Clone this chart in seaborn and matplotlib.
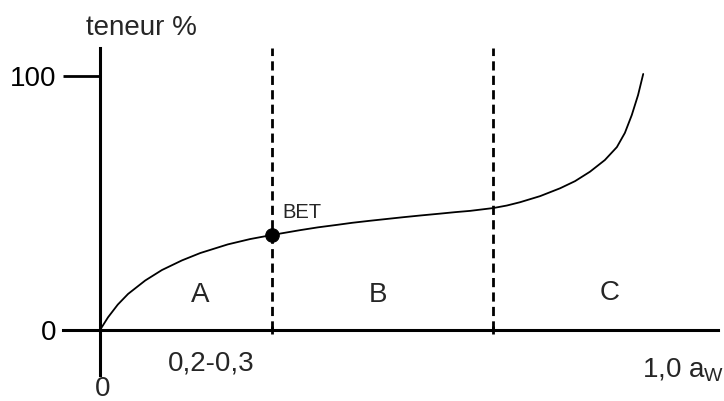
import matplotlib
matplotlib.use("Agg")
import matplotlib.pyplot as plt
import seaborn as sns
import pandas as pd

# ---- data ----
aw = [0.0, 0.014, 0.031, 0.049, 0.079, 0.108, 0.143, 0.175, 0.223, 0.262, 0.300,
      0.349, 0.380, 0.414, 0.440, 0.471, 0.500, 0.529, 0.560, 0.593, 0.620, 0.646,
      0.686, 0.710, 0.733, 0.768, 0.803, 0.829, 0.855, 0.881, 0.902, 0.916, 0.928,
      0.939, 0.948]
teneur = [0.0, 5.0, 10.0, 14.2, 19.5, 23.6, 27.4, 30.3, 33.7, 35.8, 37.4,
          39.3, 40.4, 41.4, 42.2, 43.0, 43.7, 44.4, 45.1, 45.8, 46.4, 46.9,
          48.0, 49.0, 50.3, 52.7, 55.8, 58.6, 62.3, 66.9, 72.0, 77.6, 84.6,
          92.5, 100.8]
bet_aw = [0.300]
bet_teneur = [37.4]
bounds = [0.300, 0.686]          # zone limits A|B and B|C
zone_labels = ["A", "B", "C"]
zone_x = [0.175, 0.485, 0.890]
zone_y = [11.0, 11.0, 11.8]
ytick_vals = [0, 100]
ytick_labels = ["0", "100"]

df = pd.DataFrame({"aw": aw, "teneur": teneur})
bet = pd.DataFrame({"aw": bet_aw, "teneur": bet_teneur})

sns.set_style("white")
plt.rcParams["font.family"] = ["Liberation Sans", "DejaVu Sans"]
plt.rcParams["mathtext.fontset"] = "custom"
plt.rcParams["mathtext.rm"] = "Liberation Sans"
plt.rcParams["mathtext.it"] = "Liberation Sans"

fig = plt.figure(figsize=(7.24, 4.01), dpi=100)
ax = fig.add_axes([63 / 724, 26 / 401, 655 / 724, 327 / 401])

sns.lineplot(data=df, x="aw", y="teneur", color="black", lw=1.3,
             sort=False, estimator=None, ax=ax)
sns.scatterplot(data=bet, x="aw", y="teneur", color="black", s=95,
                edgecolor="black", zorder=5, ax=ax)

ax.set_xlim(-0.0646, 1.0785)
ax.set_ylim(-17.72, 111.02)

# zone separators
ax.vlines(bounds, 0, 111.02, colors="black", lw=2.0,
          linestyles=[(0, (3.3, 1.9))])

# axes through the origin
for s in ["top", "right"]:
    ax.spines[s].set_visible(False)
ax.spines["left"].set_position(("data", 0))
ax.spines["bottom"].set_position(("data", 0))
ax.spines["left"].set_linewidth(2.2)
ax.spines["bottom"].set_linewidth(2.2)
ax.spines["left"].set_color("black")
ax.spines["bottom"].set_color("black")

ax.set_yticks(ytick_vals)
ax.set_yticklabels(ytick_labels)
ax.tick_params(axis="y", direction="out", length=26.5, width=2.0,
               pad=5, labelsize=20, colors="black", left=True)
ax.set_xticks(bounds)
ax.set_xticklabels([])
ax.tick_params(axis="x", direction="inout", length=6, width=2.0,
               bottom=True, colors="black")
ax.set_xlabel("")
ax.set_ylabel("")

fs = 20
ax.text(0.073, 116.1, "teneur %", fontsize=fs, ha="center", va="baseline",
        clip_on=False)
ax.text(0.194, -16.1, "0,2-0,3", fontsize=fs, ha="center", va="baseline",
        clip_on=False)
ax.text(0.005, -26.0, "0", fontsize=fs, ha="center", va="baseline",
        clip_on=False)
ax.text(0.946, -18.9, r"1,0 a$_{\mathrm{W}}$", fontsize=fs, ha="left",
        va="baseline", clip_on=False)
for lab, x, y in zip(zone_labels, zone_x, zone_y):
    ax.text(x, y, lab, fontsize=fs, ha="center", va="baseline")
ax.text(0.319, 44.1, "BET", fontsize=14.5, ha="left", va="baseline")

fig.savefig("out.png", dpi=100)
